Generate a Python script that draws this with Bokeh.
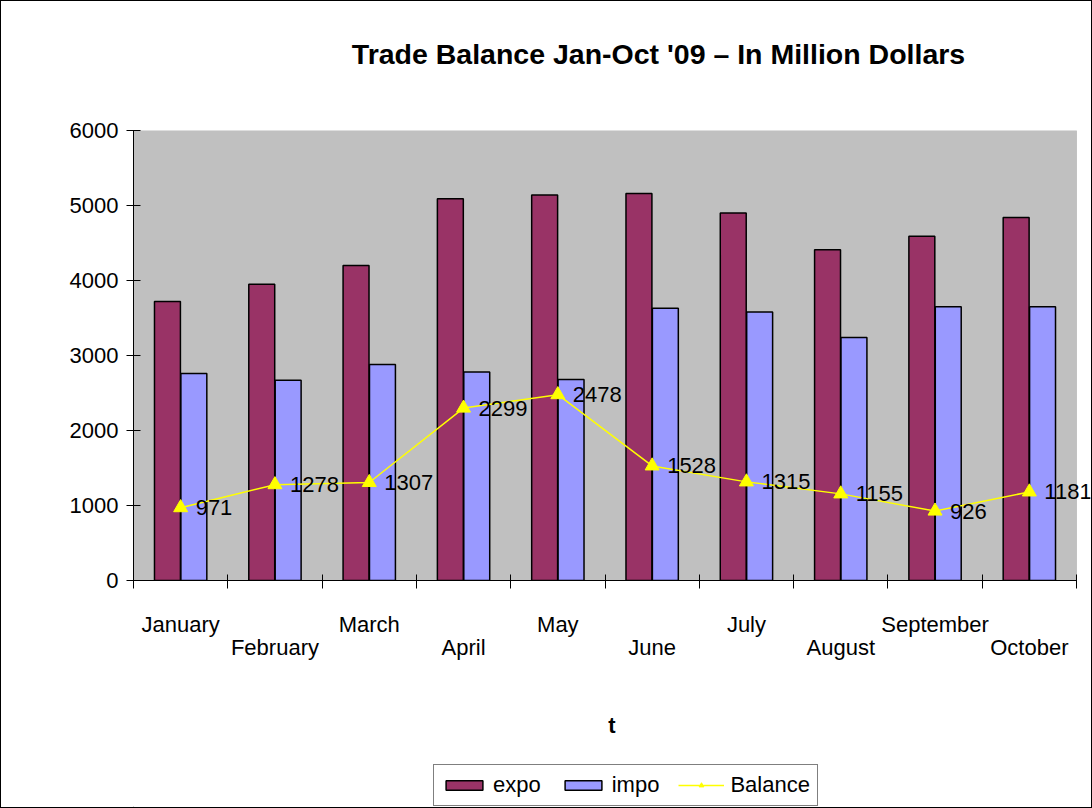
from bokeh.plotting import figure
from bokeh.layouts import column
from bokeh.models import (Range1d, LinearAxis, FixedTicker, ColumnDataSource, LabelSet, Label,
                          Legend, LegendItem, BoxAnnotation)
from bokeh.core.properties import value
from bokeh.transform import dodge
from bokeh.embed import file_html
from bokeh.resources import INLINE

months = ["January", "February", "March", "April", "May", "June", "July",
          "August", "September", "October"]
expo = [3720, 3950, 4200, 5090, 5140, 5160, 4900, 4410, 4590, 4840]
impo = [2760, 2670, 2880, 2780, 2680, 3630, 3580, 3240, 3650, 3650]
balance = [971, 1278, 1307, 2299, 2478, 1528, 1315, 1155, 926, 1181]
y_ticks = [0, 1000, 2000, 3000, 4000, 5000, 6000]
title_text = "Trade Balance Jan-Oct '09 \u2013 In Million Dollars"

FONT = "Liberation Sans"
EXPO_C, IMPO_C, BAL_C = "#993366", "#9999FF", "#FFFF00"
n = len(months)
xc = [i + 0.5 for i in range(n)]

src = ColumnDataSource(dict(x=xc, month=months, expo=expo, impo=impo, balance=balance,
                            blabel=[str(v) for v in balance]))

W = 1090
H_TOP, H_MAIN, H_LEG = 100, 650, 56
B_LEFT, B_RIGHT = 132, 1

# ---- title strip (ranges mapped to canvas pixels) ----
p0 = figure(width=W, height=H_TOP, output_backend="svg", toolbar_location=None,
            x_range=Range1d(B_LEFT, W - B_RIGHT), y_range=Range1d(H_TOP, 0),
            x_axis_type=None, y_axis_type=None, min_border=0,
            min_border_left=B_LEFT, min_border_right=B_RIGHT)
p0.outline_line_color = None
p0.grid.visible = False
p0.add_layout(Label(x=657, y=52, text=title_text, text_font=FONT, text_font_size="28.5px",
                    text_font_style="bold", text_color="black", text_align="center",
                    text_baseline="middle"))

# ---- main chart ----
# frame extends a bit beyond the grey plot area so that the last label is not clipped
FRAME_W, PLOT_W = 957, 943
x_end = n * FRAME_W / PLOT_W

p = figure(width=W, height=H_MAIN, output_backend="svg", toolbar_location=None,
           x_range=Range1d(0, x_end), y_range=Range1d(0, 6000), x_axis_type=None,
           min_border_left=B_LEFT, min_border_right=B_RIGHT, min_border_top=29,
           min_border_bottom=171)
p.background_fill_color = "white"
p.border_fill_color = "white"
p.outline_line_color = None
p.grid.visible = False

bg = BoxAnnotation(left=0, right=n, bottom=0, top=6000, fill_color="#C0C0C0", fill_alpha=1.0,
                   line_color="#808080", line_width=1, level="underlay")
p.add_layout(bg)

ya = p.yaxis[0]
ya.ticker = FixedTicker(ticks=y_ticks)
ya.major_label_text_font = FONT
ya.major_label_text_font_size = "22px"
ya.major_label_text_color = "black"
ya.major_tick_in = 7
ya.major_tick_out = 7
ya.minor_tick_line_color = None
ya.major_label_standoff = 8
ya.axis_line_color = "black"
ya.major_tick_line_color = "black"

odd = list(range(0, n, 2))
even = list(range(1, n, 2))
axA = LinearAxis(ticker=FixedTicker(ticks=[xc[i] for i in odd], minor_ticks=list(range(n + 1))),
                 major_label_overrides={xc[i]: months[i] for i in odd}, bounds=(0, n),
                 major_tick_in=0, major_tick_out=0, major_tick_line_color=None,
                 minor_tick_in=6, minor_tick_out=8, minor_tick_line_color="black",
                 axis_line_color="black", major_label_standoff=23,
                 major_label_text_font=FONT, major_label_text_font_size="22px",
                 major_label_text_color="black")
axB = LinearAxis(ticker=FixedTicker(ticks=[xc[i] for i in even], minor_ticks=[]),
                 major_label_overrides={xc[i]: months[i] for i in even},
                 major_tick_in=0, major_tick_out=0, major_tick_line_color=None,
                 minor_tick_line_color=None, axis_line_color=None, major_label_standoff=-5,
                 major_label_text_font=FONT, major_label_text_font_size="22px",
                 major_label_text_color="black",
                 axis_label="t", axis_label_text_font=FONT, axis_label_text_font_size="22px",
                 axis_label_text_font_style="bold", axis_label_standoff=50,
                 axis_label_text_color="black")
p.add_layout(axA, "below")
p.add_layout(axB, "below")

bar_w = 0.275
p.vbar(x=dodge("x", -0.14, range=p.x_range), top="expo", bottom=0, width=bar_w,
       source=src, fill_color=EXPO_C, line_color="black", line_width=1.5)
p.vbar(x=dodge("x", 0.14, range=p.x_range), top="impo", bottom=0, width=bar_w,
       source=src, fill_color=IMPO_C, line_color="black", line_width=1.5)
p.line(x="x", y="balance", source=src, line_color=BAL_C, line_width=1.5)
p.scatter(x="x", y="balance", source=src, marker="triangle", size=14,
          fill_color=BAL_C, line_color=BAL_C)

labels = LabelSet(x="x", y="balance", text="blabel", source=src, x_offset=15, y_offset=0,
                  text_baseline="middle", text_align="left", text_font=value(FONT),
                  text_font_size="22px", text_color="black")
p.add_layout(labels)

# ---- legend strip ----
p2 = figure(width=W, height=H_LEG, output_backend="svg", toolbar_location=None,
            x_range=Range1d(0, 1), y_range=Range1d(0, 1),
            x_axis_type=None, y_axis_type=None, min_border=0,
            min_border_left=B_LEFT, min_border_right=B_RIGHT)
p2.outline_line_color = None
p2.grid.visible = False
# legend-only renderers: one point each, placed outside the visible range
l_expo = p2.vbar(x=[-5], top=[-5], width=0.1, fill_color=EXPO_C, line_color="black",
                 line_width=1.5)
l_impo = p2.vbar(x=[-5], top=[-5], width=0.1, fill_color=IMPO_C, line_color="black",
                 line_width=1.5)
l_line = p2.line(x=[-5, -4], y=[-5, -5], line_color=BAL_C, line_width=1.5)
l_pts = p2.scatter(x=[-5], y=[-5], marker="triangle", size=14, fill_color=BAL_C,
                   line_color=BAL_C)

legend = Legend(items=[LegendItem(label="expo", renderers=[l_expo]),
                       LegendItem(label="impo", renderers=[l_impo]),
                       LegendItem(label="Balance", renderers=[l_line, l_pts])],
                orientation="horizontal", location=(300, 1),
                glyph_width=46, glyph_height=12, label_standoff=6, spacing=19,
                padding=7, margin=0, label_text_font=FONT, label_text_font_size="22px",
                label_text_color="black", label_height=24,
                border_line_color="black", border_line_width=1,
                background_fill_color="white", background_fill_alpha=1.0)
p2.add_layout(legend, "center")

layout = column(p0, p, p2, spacing=0)
layout.styles = {"border": "1px solid black"}

open("out.html", "w").write(file_html(layout, INLINE))
